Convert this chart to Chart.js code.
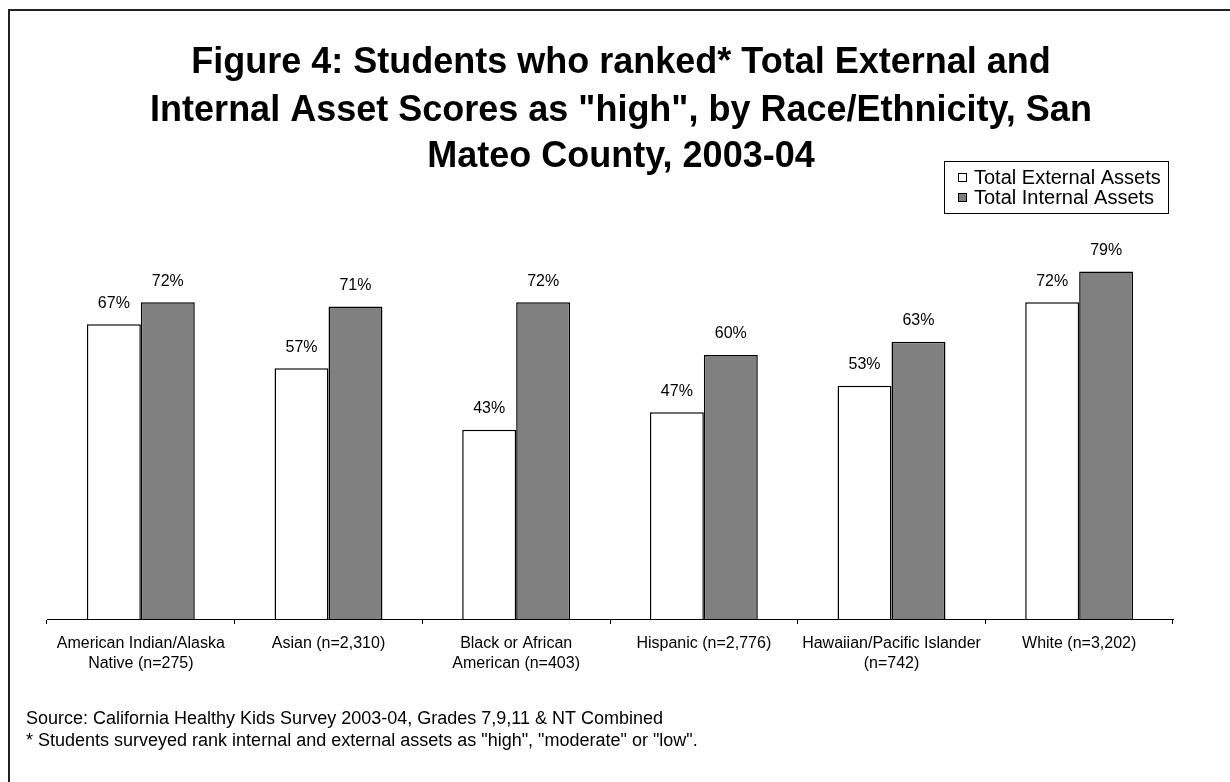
<!DOCTYPE html>
<html>
<head>
<meta charset="utf-8">
<script src="https://cdn.jsdelivr.net/npm/chart.js@4/dist/chart.umd.min.js"></script>
<style>
  html, body { margin: 0; padding: 0; background: #fff; }
  #wrap { width: 1230px; height: 782px; position: relative; }
</style>
</head>
<body>
<div id="wrap"><canvas id="c" width="1230" height="782"></canvas></div>
<script>
// Race/ethnicity groups (multi-line axis labels)
const categories = [
  ["American Indian/Alaska", "Native (n=275)"],
  ["Asian (n=2,310)"],
  ["Black or African", "American (n=403)"],
  ["Hispanic (n=2,776)"],
  ["Hawaiian/Pacific Islander", "(n=742)"],
  ["White (n=3,202)"]
];
// Percent of students ranking each asset score as "high"
const externalAssets = [67, 57, 43, 47, 53, 72];
const internalAssets = [72, 71, 72, 60, 63, 79];
const seriesNames = ["Total External Assets", "Total Internal Assets"];

const titleLines = [
  "Figure 4: Students who ranked* Total External and",
  "Internal Asset Scores as \"high\", by Race/Ethnicity, San",
  "Mateo County, 2003-04"
];
const footnotes = [
  "Source: California Healthy Kids Survey 2003-04, Grades 7,9,11 & NT Combined",
  "* Students surveyed rank internal and external assets as \"high\", \"moderate\" or \"low\"."
];

const FONT = "Arial, 'Liberation Sans', Helvetica, sans-serif";

// Frame, title, legend, value labels and footnotes
const decorations = {
  id: 'decorations',
  afterDraw(chart) {
    const ctx = chart.ctx;
    ctx.save();

    // outer frame
    ctx.strokeStyle = '#222';
    ctx.lineWidth = 2;
    ctx.strokeRect(9, 10, 1240, 800);

    // title
    ctx.fillStyle = '#000';
    ctx.font = "bold 36px " + FONT;
    ctx.textAlign = 'center';
    ctx.textBaseline = 'middle';
    const tY = [63, 111, 157];
    titleLines.forEach((t, i) => ctx.fillText(t, 621, tY[i]));

    // value labels above bars
    ctx.font = "16px " + FONT;
    chart.data.datasets.forEach((ds, di) => {
      const meta = chart.getDatasetMeta(di);
      meta.data.forEach((bar, i) => {
        ctx.fillText(ds.data[i] + '%', bar.x, bar.y - 21);
      });
    });

    // legend
    ctx.lineWidth = 1;
    ctx.strokeStyle = '#000';
    ctx.strokeRect(944.5, 161.5, 224, 52);
    ctx.font = "20px " + FONT;
    ctx.textAlign = 'left';
    chart.data.datasets.forEach((ds, di) => {
      const cy = 177 + di * 20;
      ctx.fillStyle = ds.backgroundColor;
      ctx.fillRect(958, cy - 4, 9, 9);
      ctx.strokeRect(958.5, cy - 3.5, 8, 8);
      ctx.fillStyle = '#000';
      ctx.fillText(ds.label, 974, cy + 1);
    });

    // footnotes
    ctx.font = "18px " + FONT;
    const fY = [719, 741];
    footnotes.forEach((t, i) => ctx.fillText(t, 26, fY[i]));

    ctx.restore();
  }
};

new Chart(document.getElementById('c'), {
  type: 'bar',
  data: {
    labels: categories,
    datasets: [
      {
        label: seriesNames[0],
        data: externalAssets,
        backgroundColor: '#ffffff',
        borderColor: '#000000',
        borderWidth: 1.5,
        borderSkipped: 'bottom'
      },
      {
        label: seriesNames[1],
        data: internalAssets,
        backgroundColor: '#808080',
        borderColor: '#000000',
        borderWidth: 1.5,
        borderSkipped: 'bottom'
      }
    ]
  },
  options: {
    responsive: false,
    animation: false,
    devicePixelRatio: 1,
    layout: { padding: { left: 47, right: 57, top: 179, bottom: 63 } },
    datasets: { bar: { categoryPercentage: 0.575, barPercentage: 1.0 } },
    plugins: {
      legend: { display: false },
      title: { display: false },
      tooltip: { enabled: false }
    },
    scales: {
      y: {
        display: false,
        min: 0,
        max: 100
      },
      x: {
        afterFit(scale) { scale.height = 100; },
        border: { display: true, color: '#000', width: 1 },
        grid: {
          offset: true,
          drawOnChartArea: false,
          drawTicks: true,
          tickLength: 5,
          color: '#000'
        },
        ticks: {
          color: '#000',
          font: { family: FONT, size: 16, lineHeight: 1.25 },
          padding: 10,
          maxRotation: 0,
          autoSkip: false
        }
      }
    }
  },
  plugins: [decorations]
});
</script>
</body>
</html>
